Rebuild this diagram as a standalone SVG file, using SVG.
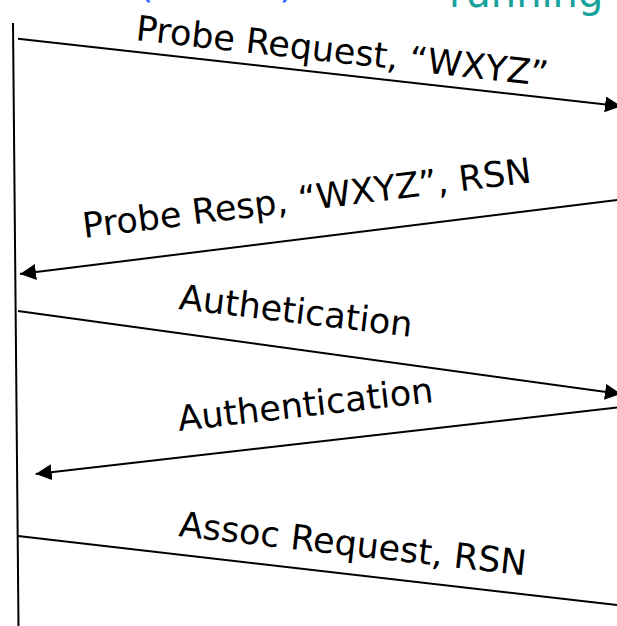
<svg xmlns="http://www.w3.org/2000/svg" width="617" height="626" viewBox="0 0 617 626">
  <style>
    .msg { stroke: #000; stroke-width: 2; fill: none; }
    .label { font-family: "DejaVu Sans", Verdana, sans-serif; font-size: 35px; fill: #000; }
    .head { font-family: "DejaVu Sans", Verdana, sans-serif; font-size: 40px; }
  </style>
  <defs>
    <marker id="arrow" markerUnits="userSpaceOnUse" markerWidth="17" markerHeight="17" refX="16" refY="8" orient="auto">
      <path d="M0,0 L16,8 L0,16 Z" fill="#000"/>
    </marker>
  </defs>
  <rect width="617" height="626" fill="#fff"/>

  <!-- participant headers (top edge) -->
  <g id="client-header">
    <text class="head" x="138" y="-3" fill="#3366ff">(Victim)</text>
  </g>
  <g id="ap-header">
    <text class="head" x="449" y="7" fill="#17a39c">running</text>
  </g>

  <!-- client lifeline -->
  <g id="client-lifeline">
    <line x1="13" y1="23" x2="18.5" y2="626" stroke="#000" stroke-width="2"/>
  </g>

  <!-- messages -->
  <g id="connectors">
    <line class="msg" x1="18" y1="38.7" x2="621" y2="106.2" marker-end="url(#arrow)"/>
    <line class="msg" x1="625" y1="199" x2="20" y2="274" marker-end="url(#arrow)"/>
    <line class="msg" x1="18" y1="311" x2="621" y2="394" marker-end="url(#arrow)"/>
    <line class="msg" x1="625" y1="406.6" x2="35.7" y2="474" marker-end="url(#arrow)"/>
    <line class="msg" x1="18" y1="536" x2="625" y2="606"/>
  </g>

  <!-- message labels -->
  <g id="label-probe-request">
    <text class="label" x="135" y="40" transform="rotate(6.4 135 40)">Probe Request, “WXYZ”</text>
  </g>
  <g id="label-probe-resp">
    <text class="label" x="84" y="238" transform="rotate(-7.1 84 238)">Probe Resp, “WXYZ”, RSN</text>
  </g>
  <g id="label-authetication">
    <text class="label" x="178" y="309" transform="rotate(6.8 178 309)">Authetication</text>
  </g>
  <g id="label-authentication">
    <text class="label" x="179" y="431" transform="rotate(-6.5 179 431)">Authentication</text>
  </g>
  <g id="label-assoc-request">
    <text class="label" x="178" y="536" transform="rotate(6.5 178 536)">Assoc Request, RSN</text>
  </g>
</svg>
